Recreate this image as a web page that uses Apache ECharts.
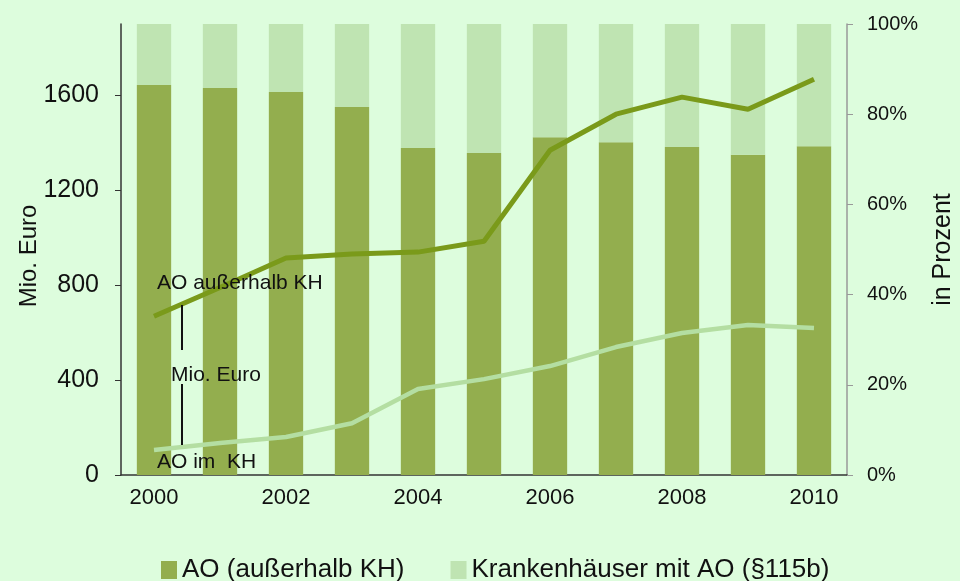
<!DOCTYPE html>
<html>
<head>
<meta charset="utf-8">
<script src="https://cdn.jsdelivr.net/npm/echarts@6/dist/echarts.min.js"></script>
<style>
  html, body { margin: 0; padding: 0; background: #ddfddd; }
  #chart { width: 960px; height: 581px; }
</style>
</head>
<body>
<div id="chart"></div>
<script>
const years = ['2000', '2001', '2002', '2003', '2004', '2005', '2006', '2007', '2008', '2009', '2010'];
// Anteil in Prozent (Balken)
const anteilAusserhalb = [86.5, 85.8, 84.9, 81.6, 72.5, 71.4, 74.9, 73.8, 72.7, 71.0, 72.9];
const anteilKrankenhaus = anteilAusserhalb.map(v => +(100 - v).toFixed(1));
// Mio. Euro (Linien)
const euroAusserhalb = [669, 790, 914, 931, 939, 985, 1368, 1520, 1592, 1541, 1667];
const euroImKH = [105, 135, 160, 218, 362, 404, 459, 539, 598, 632, 619];
const leftTicks = [0, 400, 800, 1200, 1600];

const font = 'Liberation Sans, Arial, sans-serif';
const chart = echarts.init(document.getElementById('chart'));

chart.setOption({
  backgroundColor: '#ddfddd',
  animation: false,
  grid: {left: 121, right: 113, top: 24, bottom: 106, outerBoundsMode: 'none'},
  legend: {
    data: ['AO (außerhalb KH)', 'Krankenhäuser mit AO (§115b)'],
    left: 156,
    top: 552,
    icon: 'rect',
    itemWidth: 16,
    itemHeight: 18,
    itemGap: 46,
    textStyle: {fontFamily: font, fontSize: 26, color: '#111'}
  },
  xAxis: {
    type: 'category',
    data: years,
    axisLine: {lineStyle: {color: '#333', width: 1.5}},
    axisTick: {interval: 0, length: 6, lineStyle: {color: '#333'}},
    axisLabel: {interval: 1, margin: 12, fontFamily: font, fontSize: 22, color: '#111'}
  },
  yAxis: [
    {
      type: 'value',
      min: 0,
      max: 1900,
      interval: 400,
      name: 'Mio. Euro',
      nameLocation: 'middle',
      nameGap: 80,
      nameMoveOverlap: false,
      nameTextStyle: {fontFamily: font, fontSize: 24, color: '#111', padding: [0, 13, 0, 0]},
      splitLine: {show: false},
      axisLine: {show: true, lineStyle: {color: '#333', width: 1.5}},
      axisTick: {show: true, length: 6, customValues: leftTicks, lineStyle: {color: '#333'}},
      axisLabel: {
        customValues: leftTicks,
        margin: 22,
        formatter: v => String(v),
        fontFamily: font, fontSize: 25, color: '#111'
      }
    },
    {
      type: 'value',
      min: 0,
      max: 100,
      interval: 20,
      position: 'right',
      name: 'in Prozent',
      nameLocation: 'middle',
      nameGap: 84,
      nameRotate: 90,
      nameTextStyle: {fontFamily: font, fontSize: 25, color: '#111'},
      splitLine: {show: false},
      axisLine: {show: true, lineStyle: {color: '#999', width: 1.5}},
      axisTick: {show: true, length: 6, lineStyle: {color: '#999'}},
      axisLabel: {margin: 20, formatter: '{value}%', fontFamily: font, fontSize: 20, color: '#111'}
    }
  ],
  series: [
    {
      name: 'AO (außerhalb KH)',
      type: 'bar',
      stack: 'anteil',
      yAxisIndex: 1,
      barWidth: '52%',
      itemStyle: {color: '#93ae4e'},
      data: anteilAusserhalb
    },
    {
      name: 'Krankenhäuser mit AO (§115b)',
      type: 'bar',
      stack: 'anteil',
      yAxisIndex: 1,
      barWidth: '52%',
      itemStyle: {color: '#bfe4b2'},
      data: anteilKrankenhaus
    },
    {
      name: 'AO außerhalb KH',
      type: 'line',
      yAxisIndex: 0,
      symbol: 'none',
      lineStyle: {color: '#7a9a1a', width: 5},
      data: euroAusserhalb
    },
    {
      name: 'AO im KH',
      type: 'line',
      yAxisIndex: 0,
      symbol: 'none',
      lineStyle: {color: '#b4dea2', width: 4.5},
      data: euroImKH
    }
  ],
  graphic: [
    {type: 'text', z: 100, left: 157, top: 273, style: {text: 'AO außerhalb KH', fontFamily: font, fontSize: 21, fill: '#111'}},
    {type: 'text', z: 100, left: 171, top: 365, style: {text: 'Mio. Euro', fontFamily: font, fontSize: 21, fill: '#111'}},
    {type: 'text', z: 100, left: 157, top: 452, style: {text: 'AO im  KH', fontFamily: font, fontSize: 21, fill: '#111'}},
    {type: 'line', z: 100, shape: {x1: 182, y1: 305, x2: 182, y2: 350}, style: {stroke: '#111', lineWidth: 2}},
    {type: 'line', z: 100, shape: {x1: 182, y1: 384, x2: 182, y2: 445}, style: {stroke: '#111', lineWidth: 2}}
  ]
});
</script>
</body>
</html>
